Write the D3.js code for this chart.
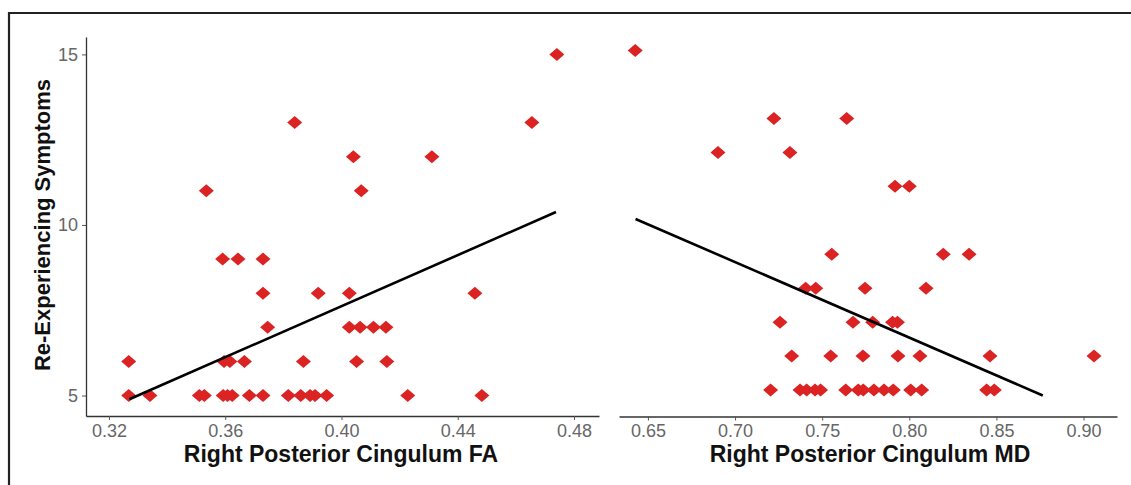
<!DOCTYPE html>
<html>
<head>
<meta charset="utf-8">
<script src="https://cdn.jsdelivr.net/npm/d3@7"></script>
<style>
  body { margin: 0; background: #fff; }
  svg { display: block; }
  .tick text { font-family: "Liberation Sans", Arial, sans-serif; fill: #666; }
</style>
</head>
<body>
<script>
// FA panel: x values grouped by symptom score
var faX = [0.3268, 0.3341, 0.3511, 0.3528, 0.3593, 0.3608, 0.3624, 0.3683, 0.3730, 0.3817, 0.3860, 0.3892, 0.3909, 0.3949, 0.4228, 0.4483,
           0.3268, 0.3596, 0.3616, 0.3666, 0.3869, 0.4052, 0.4156,
           0.3746, 0.4027, 0.4064, 0.4110, 0.4153,
           0.3730, 0.3920, 0.4027, 0.4459,
           0.3591, 0.3644, 0.3730,
           0.3535, 0.4068,
           0.4041, 0.4311,
           0.3839, 0.4655,
           0.4741];
var faY = [5, 5, 5, 5, 5, 5, 5, 5, 5, 5, 5, 5, 5, 5, 5, 5,
           6, 6, 6, 6, 6, 6, 6,
           7, 7, 7, 7, 7,
           8, 8, 8, 8,
           9, 9, 9,
           11, 11,
           12, 12,
           13, 13,
           15];

// MD panel
var mdX = [0.7204, 0.7373, 0.7411, 0.7459, 0.7491, 0.7635, 0.7707, 0.7736, 0.7797, 0.7855, 0.7908, 0.8008, 0.8071, 0.8444, 0.8488,
           0.7325, 0.7549, 0.7734, 0.7935, 0.8061, 0.8463, 0.9060,
           0.7258, 0.7677, 0.7790, 0.7904, 0.7932,
           0.7405, 0.7463, 0.7746, 0.8096,
           0.7555, 0.8195, 0.8343,
           0.7918, 0.8000,
           0.6902, 0.7315,
           0.7223, 0.7641,
           0.6427];
var mdY = [5, 5, 5, 5, 5, 5, 5, 5, 5, 5, 5, 5, 5, 5, 5,
           6, 6, 6, 6, 6, 6, 6,
           7, 7, 7, 7, 7,
           8, 8, 8, 8,
           9, 9, 9,
           11, 11,
           12, 12,
           13, 13,
           15];

// fitted lines (x start/end, y start/end)
var faFitX = [0.3270, 0.4738], faFitY = [4.89, 10.38];
var mdFitX = [0.6429, 0.8766], mdFitY = [10.04, 4.84];

var faTicks = [0.32, 0.36, 0.40, 0.44, 0.48];
var mdTicks = [0.65, 0.70, 0.75, 0.80, 0.85, 0.90];
var yTicks = [5, 10, 15];

var W = 1131, H = 485;
var svg = d3.select("body").append("svg").attr("width", W).attr("height", H);

// outer frame
svg.append("path").attr("d", "M9,485V13H1131").attr("fill", "none").attr("stroke", "#222").attr("stroke-width", 2.2);

var xL = d3.scaleLinear().domain([0.3121, 0.4886]).range([86, 599]);
var yL = d3.scaleLinear().domain([4.40, 15.51]).range([416, 37]);
var xR = d3.scaleLinear().domain([0.6334, 0.9192]).range([619, 1117]);
var yR = d3.scaleLinear().domain([4.22, 15.40]).range([416.5, 37]);

function styleAxis(g, size) {
  g.select(".domain").attr("stroke", "#333").attr("stroke-width", 1.3);
  g.selectAll(".tick line").attr("stroke", "#555").attr("stroke-width", 1);
  g.selectAll(".tick text").style("font-size", size + "px");
}

var gxL = svg.append("g").attr("transform", "translate(0,416)")
  .call(d3.axisBottom(xL).tickValues(faTicks).tickFormat(d3.format(".2f")).tickSize(4).tickSizeOuter(0).tickPadding(4));
styleAxis(gxL, 18);
var gyL = svg.append("g").attr("transform", "translate(86,0)")
  .call(d3.axisLeft(yL).tickValues(yTicks).tickSize(4).tickSizeOuter(0).tickPadding(4));
styleAxis(gyL, 18);
var gxR = svg.append("g").attr("transform", "translate(0,416.5)")
  .call(d3.axisBottom(xR).tickValues(mdTicks).tickFormat(d3.format(".2f")).tickSize(4).tickSizeOuter(0).tickPadding(4));
styleAxis(gxR, 18);

var diamond = "M0,-6.5L7.5,0L0,6.5L-7.5,0Z";

function drawPoints(xs, ys, sx, sy) {
  svg.append("g").selectAll("path")
    .data(d3.range(xs.length))
    .enter().append("path")
      .attr("d", diamond)
      .attr("transform", function(i) { return "translate(" + sx(xs[i]) + "," + sy(ys[i]) + ")"; })
      .attr("fill", "#dc2323");
}
drawPoints(faX, faY, xL, yL);
drawPoints(mdX, mdY, xR, yR);

function drawFit(fx, fy, sx, sy) {
  svg.append("line")
    .attr("x1", sx(fx[0])).attr("y1", sy(fy[0]))
    .attr("x2", sx(fx[1])).attr("y2", sy(fy[1]))
    .attr("stroke", "#000").attr("stroke-width", 2.6);
}
drawFit(faFitX, faFitY, xL, yL);
drawFit(mdFitX, mdFitY, xR, yR);

var font = "'Liberation Sans', Arial, sans-serif";
svg.append("text").attr("x", 341).attr("y", 462).attr("text-anchor", "middle")
  .attr("font-family", font).attr("font-weight", "bold").attr("font-size", 23).attr("fill", "#111")
  .text("Right Posterior Cingulum FA");
svg.append("text").attr("x", 870).attr("y", 462).attr("text-anchor", "middle")
  .attr("font-family", font).attr("font-weight", "bold").attr("font-size", 23).attr("fill", "#111")
  .text("Right Posterior Cingulum MD");
svg.append("text").attr("transform", "translate(50,225)rotate(-90)").attr("text-anchor", "middle")
  .attr("font-family", font).attr("font-weight", "bold").attr("font-size", 22).attr("fill", "#111")
  .text("Re-Experiencing Symptoms");
</script>
</body>
</html>
